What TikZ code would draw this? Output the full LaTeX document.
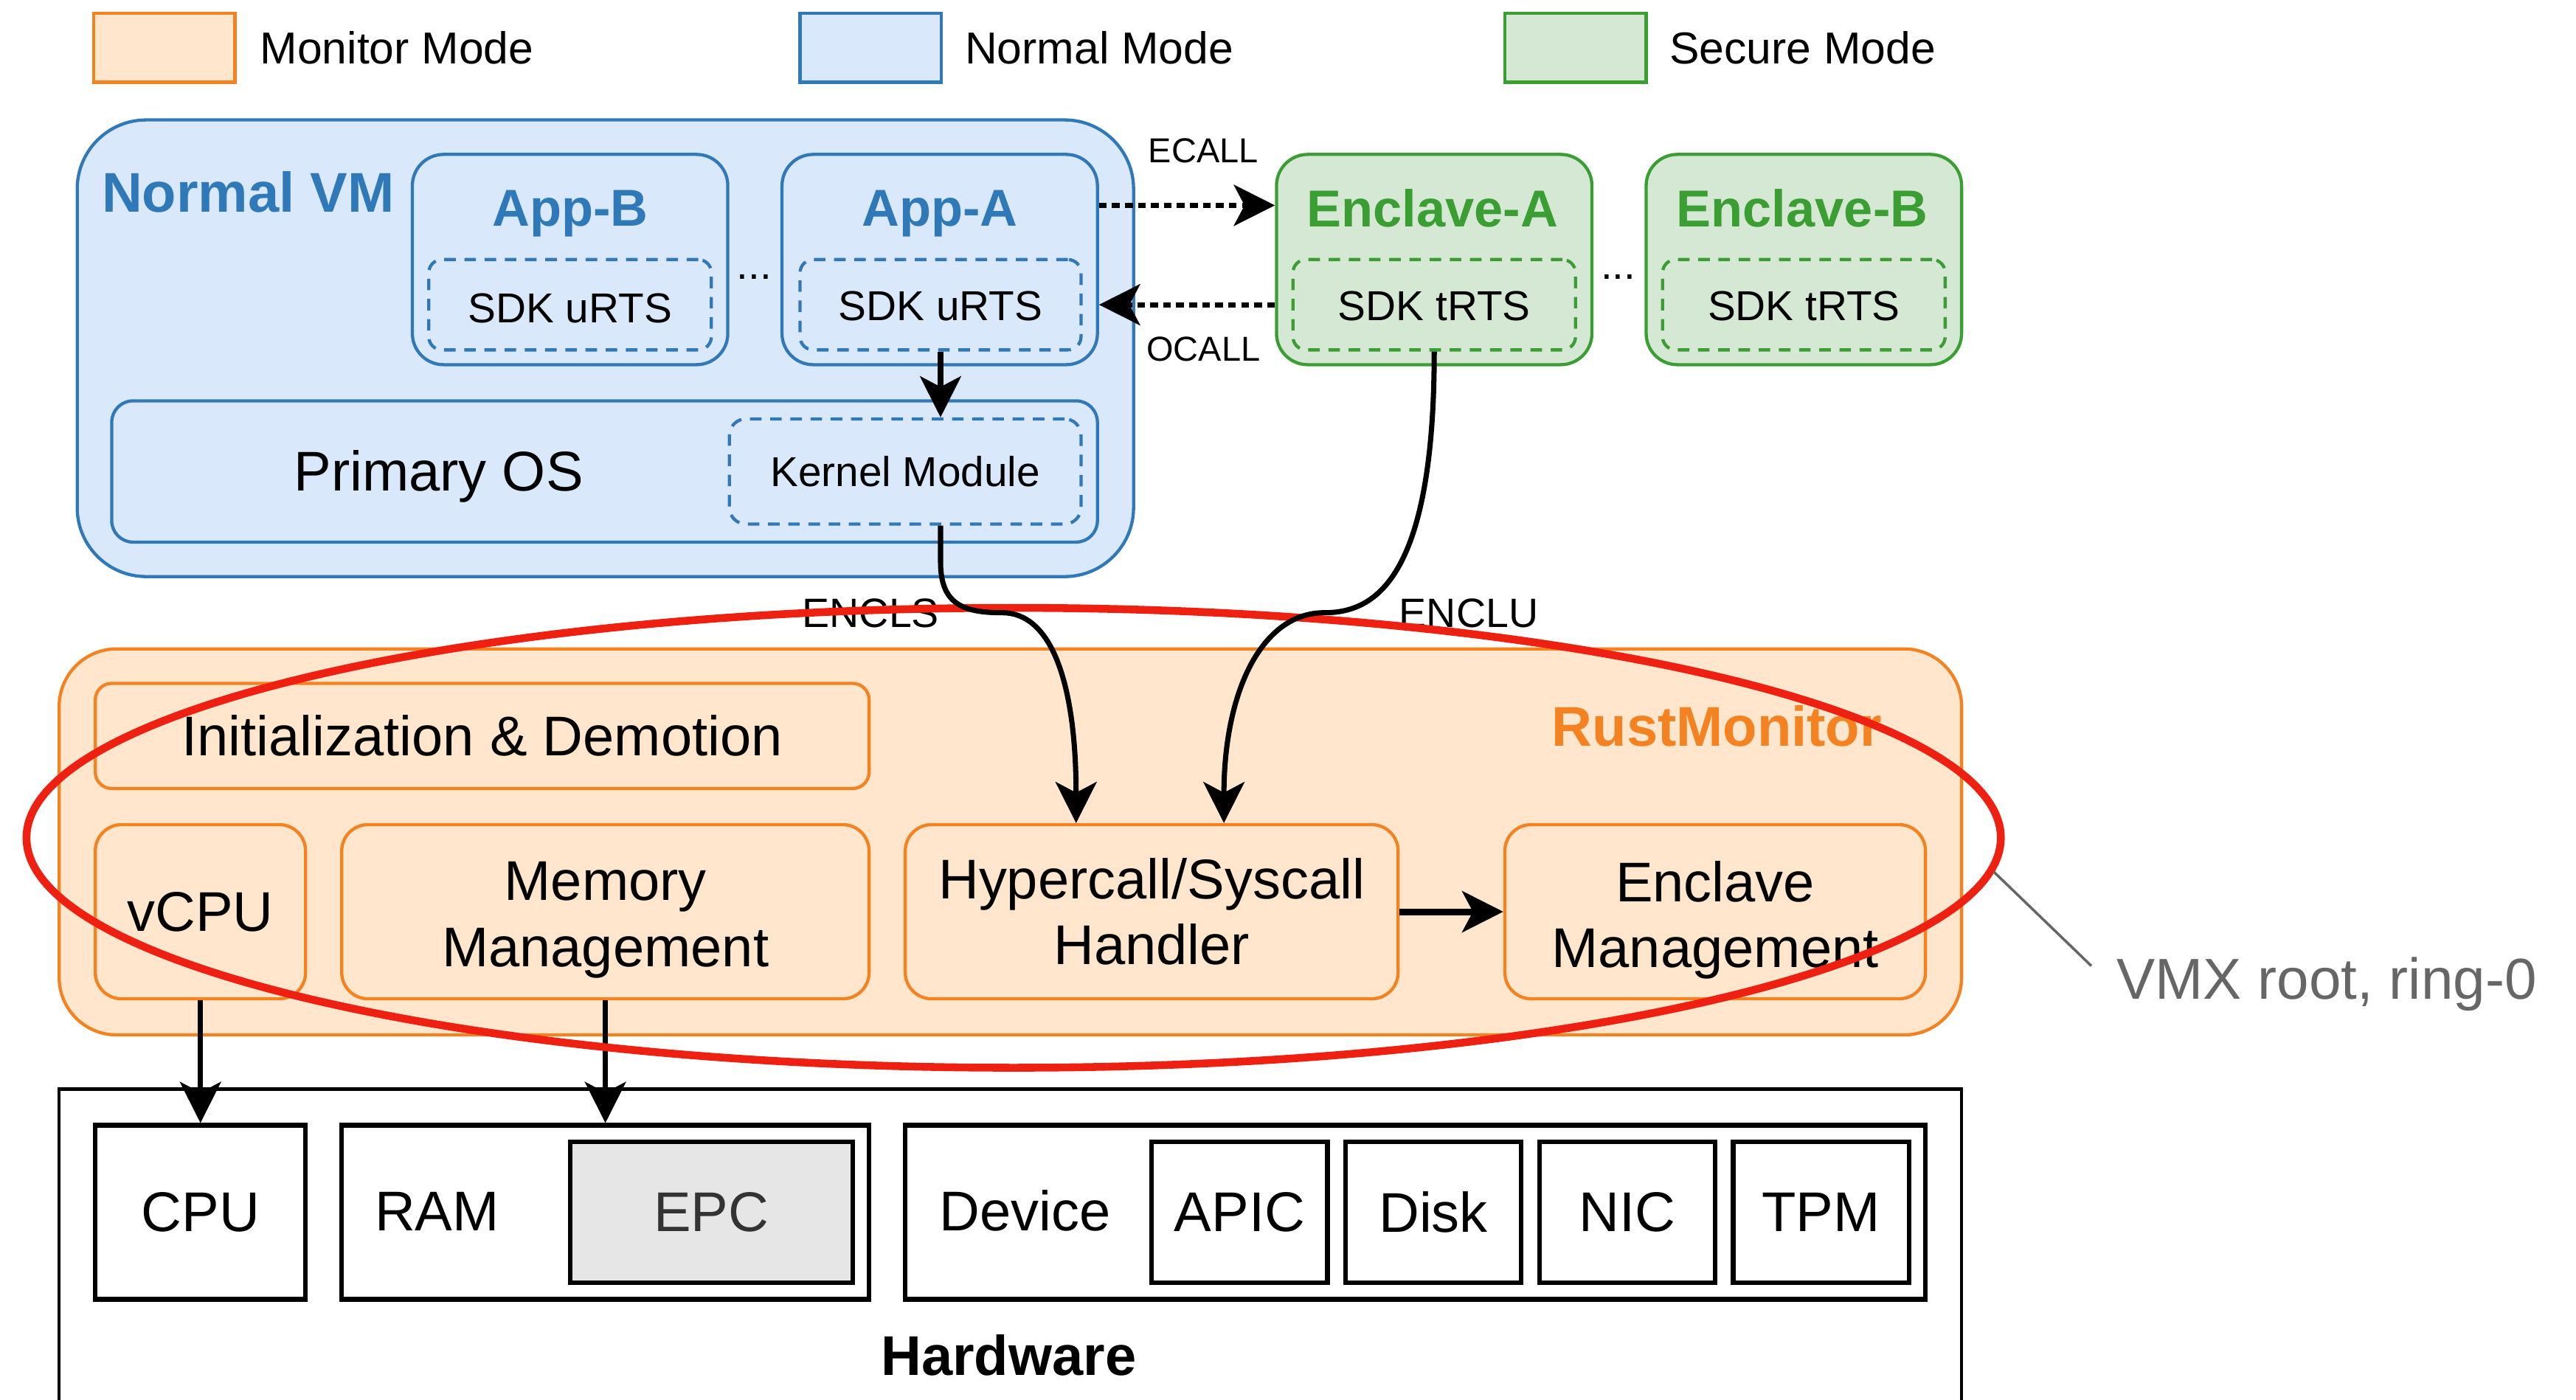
\documentclass[tikz,border=0pt]{standalone}
\usepackage{fontspec}
\setmainfont{Liberation Sans}
\usetikzlibrary{arrows.meta,fit,shapes.geometric}

\definecolor{nblue}{HTML}{2F79B8}
\definecolor{nbluefill}{HTML}{DAE8FC}
\definecolor{sgreen}{HTML}{3A9E32}
\definecolor{sgreenfill}{HTML}{D5E8D4}
\definecolor{morange}{HTML}{F58220}
\definecolor{morangefill}{HTML}{FFE6CC}
\definecolor{ringred}{HTML}{EE2011}
\definecolor{notegray}{HTML}{666666}
\definecolor{epcfill}{HTML}{E6E6E6}
\definecolor{epctext}{HTML}{333333}

\begin{document}
\begin{tikzpicture}[x=0.02cm, y=-0.02cm,
    box/.style={draw, line width=1.1pt, inner sep=0pt},
    normalbox/.style={box, draw=nblue, fill=nbluefill},
    securebox/.style={box, draw=sgreen, fill=sgreenfill},
    monitorbox/.style={box, draw=morange, fill=morangefill},
    hwbox/.style={box, draw=black, fill=white, line width=1.6pt},
    rtsbox/.style={dash pattern=on 4pt off 3pt},
    headfont/.style={font=\fontsize{19.4}{23}\selectfont\bfseries, inner sep=0pt, anchor=base},
    titlefont/.style={font=\fontsize{18}{22}\selectfont\bfseries, inner sep=0pt, anchor=base},
    bigfont/.style={font=\fontsize{19.4}{22.8}\selectfont, align=center, inner sep=0pt},
    plainfont/.style={font=\fontsize{19.4}{22.8}\selectfont, inner sep=0pt, anchor=base},
    midfont/.style={font=\fontsize{14.5}{17}\selectfont, inner sep=0pt},
    lblfont/.style={font=\fontsize{12}{14}\selectfont, inner sep=0pt},
    enclfont/.style={font=\fontsize{14.2}{17}\selectfont, inner sep=0pt, anchor=base},
    legendfont/.style={font=\fontsize{15.5}{18}\selectfont, inner sep=0pt, anchor=base west},
    flowarrow/.style={line width=1.8pt, -{Stealth[length=0.5cm, width=0.5cm, inset=0.13cm]}},
    dotflow/.style={flowarrow, dash pattern=on 2.7pt off 1.8pt},
]
\useasboundingbox (0,0) rectangle (1568,852);
\clip (0,0) rectangle (1568,852);

% legend
\node[monitorbox, fit={(57,8) (143,50)}] (monitor key) {};
\node[legendfont] (monitor key text) at (158,39) {Monitor Mode};
\node[normalbox, fit={(487,8) (573,50)}] (normal key) {};
\node[legendfont] (normal key text) at (587,39) {Normal Mode};
\node[securebox, fit={(916,8) (1002,50)}] (secure key) {};
\node[legendfont] (secure key text) at (1016,39) {Secure Mode};

% normal world
\node[normalbox, rounded corners=0.84cm, fit={(47,73) (690,351)}] (nvm) {};
\node[headfont, text=nblue] (nvm title) at (151,129) {Normal VM};
\node[normalbox, rounded corners=0.38cm, fit={(251,94) (443,222)}] (appb) {};
\node[titlefont, text=nblue] (appb title) at (347,137.5) {App-B};
\node[normalbox, rtsbox, rounded corners=0.16cm, fit={(261,158) (433,213)}] (urtsb) {};
\node[midfont] at ([yshift=-0.04cm]urtsb) {SDK uRTS};
\node[normalbox, rounded corners=0.38cm, fit={(476,94) (668,222)}] (appa) {};
\node[titlefont, text=nblue] (appa title) at (572,137.5) {App-A};
\node[normalbox, rtsbox, rounded corners=0.16cm, fit={(487,158) (658,213)}] (urtsa) {};
\node[midfont] at ([yshift=-0.02cm]urtsa) {SDK uRTS};
\node[midfont, anchor=base] (app dots) at (459,170) {...};
\node[normalbox, rounded corners=0.26cm, fit={(68,244) (668,330)}] (pos) {};
\node[plainfont] (pos text) at (267,299) {Primary OS};
\node[normalbox, rtsbox, rounded corners=0.2cm, fit={(444,255) (658,319)}] (kmod) {};
\node[midfont] at (kmod) {Kernel Module};

% secure world
\node[securebox, rounded corners=0.38cm, fit={(777,94) (969,222)}] (encla) {};
\node[titlefont, text=sgreen] (encla title) at (872,138) {Enclave-A};
\node[securebox, rtsbox, rounded corners=0.16cm, fit={(787,158) (959,213)}] (trtsa) {};
\node[midfont] at ([yshift=-0.02cm]trtsa) {SDK tRTS};
\node[securebox, rounded corners=0.38cm, fit={(1002,94) (1194,222)}] (enclb) {};
\node[titlefont, text=sgreen] (enclb title) at (1097,138) {Enclave-B};
\node[securebox, rtsbox, rounded corners=0.16cm, fit={(1012,158) (1184,213)}] (trtsb) {};
\node[midfont] at ([yshift=-0.02cm]trtsb) {SDK tRTS};
\node[midfont, anchor=base] (encl dots) at (985,170) {...};

% monitor
\node[monitorbox, rounded corners=0.7cm, fit={(36,395) (1194,630)}] (rmon) {};
\node[headfont, text=morange] (rmon title) at (1045,454) {RustMonitor};
\node[monitorbox, rounded corners=0.2cm, fit={(58,416) (529,480)}] (init) {};
\node[bigfont] at (init) {Initialization \& Demotion};
\node[monitorbox, rounded corners=0.32cm, fit={(58,502) (186,608)}] (vcpu) {};
\node[bigfont] at (vcpu) {vCPU};
\node[monitorbox, rounded corners=0.32cm, fit={(208,502) (529,608)}] (mem) {};
\node[bigfont] at ([yshift=-0.1cm]mem) {Memory\\Management};
\node[monitorbox, rounded corners=0.32cm, fit={(551,502) (851,608)}] (hyp) {};
\node[bigfont] at (hyp) {Hypercall/Syscall\\Handler};
\node[monitorbox, rounded corners=0.32cm, fit={(916,502) (1172,608)}] (emgmt) {};
\node[bigfont] at ([yshift=-0.1cm]emgmt) {Enclave\\Management};

% hardware
\node[hwbox, line width=1.1pt, fit={(36,663) (1194,860)}] (hw) {};
\node[headfont] (hw title) at (614,837) {Hardware};
\node[hwbox, fit={(58,685) (186,791)}] (cpu) {};
\node[bigfont] at (cpu) {CPU};
\node[hwbox, fit={(208,685) (529,791)}] (ram) {};
\node[plainfont] (ram text) at (266,749) {RAM};
\node[hwbox, fill=epcfill, fit={(347,695) (519,781)}] (epc) {};
\node[bigfont, text=epctext] at (epc) {EPC};
\node[hwbox, fit={(551,685) (1172,791)}] (dev) {};
\node[plainfont] (dev text) at (624,749) {Device};
\foreach \name/\x in {APIC/701, Disk/819, NIC/937, TPM/1055}{
    \node[hwbox, fit={(\x,695) (\x+107,781)}] (\name) {};
    \node[bigfont] at (\name) {\name};
}

% calls between app and enclave
\draw[dotflow] ([yshift=0.66cm]appa.east) -- ([yshift=0.66cm]encla.west)
    node[midway, above=0.48cm, xshift=0.2cm, lblfont] (ecall) {ECALL};
\draw[dotflow] (trtsa.west -| encla.west) -- (trtsa.west -| appa.east)
    node[midway, below=0.36cm, xshift=0.2cm, lblfont] (ocall) {OCALL};
\draw[flowarrow] (urtsa.south) -- (urtsa.south |- kmod.north);

% down to the monitor and hardware
\draw[flowarrow, line width=2.3pt] (hyp.east) -- (emgmt.west);
\draw[flowarrow] (vcpu.south) -- (cpu.north);
\draw[flowarrow] (mem.south) -- (ram.north);

\node[enclfont] (encls) at (530,382) {ENCLS};
\node[enclfont] (enclu) at (894,382) {ENCLU};

% ring around the monitor
\node[draw=ringred, line width=2.7pt, ellipse, inner sep=0pt,
    minimum width=24.04cm, minimum height=5.6cm] (ring) at (617,510) {};
\node[font=\fontsize{20}{24}\selectfont, text=notegray, inner sep=0pt, anchor=base west]
    (vmx) at (1288,608) {VMX root, ring-0};
\draw[notegray, line width=0.9pt] (ring.-2) -- ([shift={(-15,-20)}]vmx.base west);

\coordinate (encls start) at (urtsa.south |- kmod.south);
\coordinate (encls bend) at (610,373);
\coordinate (enclu bend) at (806,373);
\draw[flowarrow] (encls start) -- +(0,22) .. controls +(0,25) and +(-25,0) .. (encls bend)
    .. controls +(32,0) and +(0,-80) .. ([xshift=-0.92cm]hyp.north);
\draw[flowarrow] (trtsa.south) .. controls +(0,140) and +(30,0) .. (enclu bend)
    .. controls +(-38,0) and +(0,-80) .. ([xshift=0.88cm]hyp.north);

\end{tikzpicture}
\end{document}
